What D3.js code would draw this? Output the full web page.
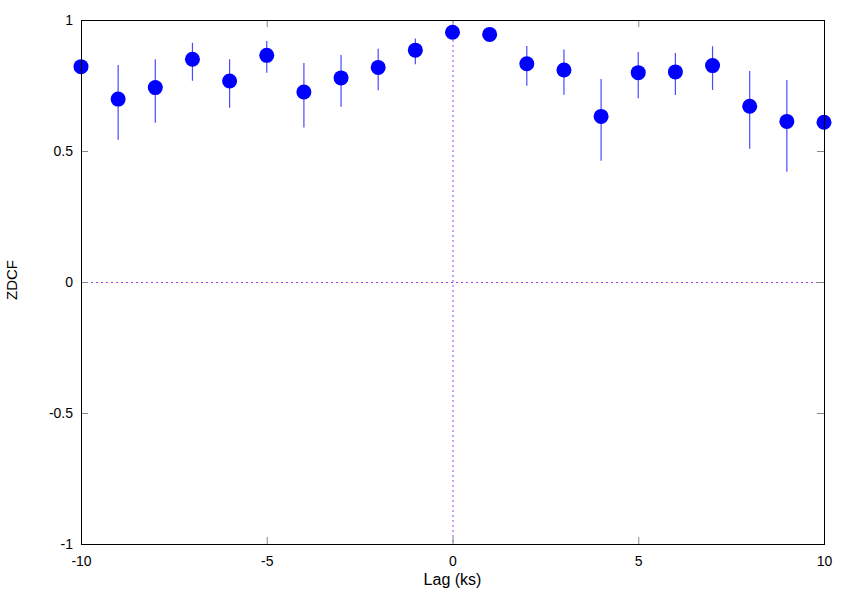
<!DOCTYPE html>
<html><head><meta charset="utf-8">
<script src="https://cdn.jsdelivr.net/npm/d3@7"></script>
<style>body{margin:0;background:#fff}svg{display:block}text{font-family:"Liberation Sans",Arial,sans-serif;font-size:14px;fill:#000}</style>
</head><body><svg id="c" width="854" height="598"></svg>
<script>
const lags = [-10,-9,-8,-7,-6,-5,-4,-3,-2,-1,0,1,2,3,4,5,6,7,8,9,10];
const zdcf = [0.822,0.698,0.742,0.850,0.767,0.865,0.725,0.779,0.819,0.885,0.953,0.945,0.833,0.809,0.632,0.799,0.802,0.826,0.671,0.613,0.610];
const errLow = [0.822,0.543,0.608,0.768,0.665,0.799,0.590,0.669,0.732,0.831,0.953,0.945,0.749,0.715,0.463,0.701,0.714,0.733,0.509,0.421,0.610];
const errHigh = [0.822,0.828,0.850,0.913,0.850,0.920,0.836,0.866,0.890,0.929,0.953,0.945,0.901,0.887,0.775,0.878,0.874,0.900,0.805,0.771,0.610];
const xTicks = [-10,-5,0,5,10];
const yTicks = [-1,-0.5,0,0.5,1];

const svg = d3.select("#c");
const L=81, R=824, T=20, B=544;
const x = d3.scaleLinear().domain([-10,10]).range([L,R]);
const y = d3.scaleLinear().domain([-1,1]).range([B,T]);
const fmt = d => String(d).replace("\u2212","-");
const font = "'Liberation Sans',Arial,sans-serif";

// zero lines
const g0 = svg.append("g").attr("stroke","#a040e8").attr("stroke-width",1).attr("stroke-dasharray","2,3");
g0.append("line").attr("x1",L).attr("x2",R).attr("y1",y(0)+0.5).attr("y2",y(0)+0.5);
g0.append("line").attr("x1",x(0)+0.5).attr("x2",x(0)+0.5).attr("y1",T).attr("y2",B);

// axes
const ax = d3.axisBottom(x).tickValues(xTicks).tickSize(0).tickPadding(12).tickFormat(fmt);
const gx = svg.append("g").attr("transform",`translate(0,${B})`).call(ax);
gx.select(".domain").remove();
gx.selectAll("text").style("font-family",font).style("font-size","14px").attr("fill","#000");
const ay = d3.axisLeft(y).tickValues(yTicks).tickSize(0).tickPadding(8).tickFormat(fmt);
const gy = svg.append("g").attr("transform",`translate(${L},0)`).call(ay);
gy.select(".domain").remove();
gy.selectAll("text").style("font-family",font).style("font-size","14px").attr("fill","#000");

// inside ticks (mirrored)
const tk = svg.append("g").attr("stroke","#888").attr("stroke-width",1);
xTicks.slice(1,-1).forEach(v=>{
  tk.append("line").attr("x1",x(v)+0.5).attr("x2",x(v)+0.5).attr("y1",B).attr("y2",B-7);
  tk.append("line").attr("x1",x(v)+0.5).attr("x2",x(v)+0.5).attr("y1",T).attr("y2",T+7);
});
yTicks.slice(1,-1).forEach(v=>{
  tk.append("line").attr("x1",L).attr("x2",L+7).attr("y1",y(v)+0.5).attr("y2",y(v)+0.5);
  tk.append("line").attr("x1",R).attr("x2",R-7).attr("y1",y(v)+0.5).attr("y2",y(v)+0.5);
});

// error bars
svg.append("g").selectAll("line").data(lags).join("line")
  .attr("x1",d=>x(d)).attr("x2",d=>x(d))
  .attr("y1",(d,i)=>y(errHigh[i])).attr("y2",(d,i)=>y(errLow[i]))
  .attr("stroke","#4a4aff").attr("stroke-width",1.2);

// points
svg.append("g").selectAll("circle").data(lags).join("circle")
  .attr("cx",d=>x(d)).attr("cy",(d,i)=>y(zdcf[i])).attr("r",7.5).attr("fill","#0000ff");

// frame
svg.append("rect").attr("x",L+0.5).attr("y",T+0.5).attr("width",R-L).attr("height",B-T)
  .attr("fill","none").attr("stroke","#000").attr("stroke-width",1);

// labels
svg.append("text").attr("x",(L+R)/2).attr("y",585).attr("text-anchor","middle").style("font-size","16px").text("Lag (ks)");
svg.append("text").attr("transform",`translate(17,280) rotate(-90)`).attr("text-anchor","middle").style("font-size","15px").text("ZDCF");
</script></body></html>
